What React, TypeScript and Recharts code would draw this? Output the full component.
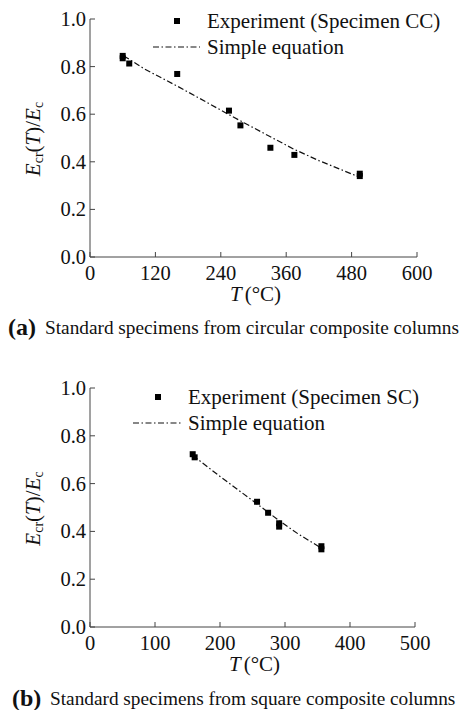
import React from 'react';
import { ScatterChart, Scatter, XAxis, YAxis, Legend, Label } from 'recharts';

const FONT = '"Liberation Serif", "Times New Roman", serif';
const AXIS = '#444';

// (a) circular composite columns, specimen CC
const ccExperiment = [
  { x: 60, y: 0.845 },
  { x: 60, y: 0.835 },
  { x: 72, y: 0.813 },
  { x: 160, y: 0.769 },
  { x: 255, y: 0.615 },
  { x: 276, y: 0.553 },
  { x: 331, y: 0.459 },
  { x: 375, y: 0.429 },
  { x: 495, y: 0.35 },
  { x: 495, y: 0.34 },
];
const ccEquation = [
  { x: 62, y: 0.845 },
  { x: 100, y: 0.79 },
  { x: 160, y: 0.718 },
  { x: 200, y: 0.668 },
  { x: 255, y: 0.598 },
  { x: 300, y: 0.543 },
  { x: 331, y: 0.505 },
  { x: 375, y: 0.452 },
  { x: 420, y: 0.405 },
  { x: 493, y: 0.337 },
];
const ccTicks = [0, 120, 240, 360, 480, 600];

// (b) square composite columns, specimen SC
const scExperiment = [
  { x: 158, y: 0.723 },
  { x: 161, y: 0.71 },
  { x: 257, y: 0.524 },
  { x: 274, y: 0.478 },
  { x: 291, y: 0.434 },
  { x: 291, y: 0.42 },
  { x: 356, y: 0.338 },
  { x: 356, y: 0.325 },
];
const scEquation = [
  { x: 158, y: 0.718 },
  { x: 200, y: 0.63 },
  { x: 257, y: 0.515 },
  { x: 275, y: 0.478 },
  { x: 291, y: 0.445 },
  { x: 320, y: 0.39 },
  { x: 356, y: 0.33 },
];
const scTicks = [0, 100, 200, 300, 400, 500];

const yTicks = [0, 0.2, 0.4, 0.6, 0.8, 1.0];

const DASH = '6 2.5 1.5 2.5';

const Square = (props: any) => {
  const { cx, cy } = props;
  if (cx == null || cy == null) return <g />;
  return <rect x={cx - 3} y={cy - 3} width={6} height={6} fill="#000" />;
};

const NoShape = () => <g />;

const XTick = (props: any) => {
  const { x, y, payload } = props;
  return (
    <g>
      <line x1={x} y1={y} x2={x} y2={y - 5} stroke={AXIS} />
      <text x={x} y={y + 16} textAnchor="middle" dominantBaseline="central" fontFamily={FONT} fontSize={20.5} fill="#111">
        {payload.value}
      </text>
    </g>
  );
};

const YTick = (props: any) => {
  const { x, y, payload } = props;
  return (
    <g>
      <line x1={x} y1={y} x2={x + 5} y2={y} stroke={AXIS} />
      <text x={x - 4} y={y} textAnchor="end" dominantBaseline="central" fontFamily={FONT} fontSize={20.5} fill="#111">
        {Number(payload.value).toFixed(1)}
      </text>
    </g>
  );
};

const YTitle = (props: any) => {
  const vb = props.viewBox || {};
  const cx = 33;
  const cy = vb.y + vb.height / 2 + 1;
  return (
    <text transform={`rotate(-90 ${cx} ${cy})`} x={cx} y={cy} textAnchor="middle" dominantBaseline="central" fontFamily={FONT} fontSize={21} fill="#111">
      <tspan fontStyle="italic">E</tspan>
      <tspan fontSize={14} dy={5}>cr</tspan>
      <tspan dy={-5}>(</tspan>
      <tspan fontStyle="italic">T</tspan>
      <tspan>)/</tspan>
      <tspan fontStyle="italic">E</tspan>
      <tspan fontSize={14} dy={5}>c</tspan>
    </text>
  );
};

const XTitle = (props: any) => {
  const vb = props.viewBox || {};
  const cx = vb.x + vb.width / 2 + 2;
  const cy = vb.y + 37;
  return (
    <text x={cx} y={cy} textAnchor="middle" dominantBaseline="central" fontFamily={FONT} fontSize={21} fill="#111">
      <tspan fontStyle="italic">T</tspan>
      <tspan dx={3}>(°C)</tspan>
    </text>
  );
};

const makeLegend = (name: string, markerX: number, lineX1: number, lineX2: number, textX: number, row1: number) => () => (
  <svg width={462} height={80} style={{ display: 'block' }}>
    <rect x={markerX - 3} y={row1 - 3} width={6} height={6} fill="#000" />
    <text x={textX} y={row1} dominantBaseline="central" fontFamily={FONT} fontSize={21} fill="#111">
      {name}
    </text>
    <line x1={lineX1} y1={row1 + 26} x2={lineX2} y2={row1 + 26} stroke="#111" strokeWidth={1.2} strokeDasharray={DASH} />
    <text x={textX} y={row1 + 26} dominantBaseline="central" fontFamily={FONT} fontSize={21} fill="#111">
      Simple equation
    </text>
  </svg>
);

interface PanelProps {
  experiment: { x: number; y: number }[];
  equation: { x: number; y: number }[];
  xTicks: number[];
  xMax: number;
  top: number;
  right: number;
  bottom: number;
  legend: () => React.ReactElement;
}

const Panel: React.FC<PanelProps> = ({ experiment, equation, xTicks, xMax, top, right, bottom, legend }) => (
  <ScatterChart width={462} height={320} margin={{ top, right, bottom, left: 0 }}>
    <XAxis
      type="number"
      dataKey="x"
      domain={[0, xMax]}
      ticks={xTicks}
      interval={0}
      height={50}
      stroke={AXIS}
      tickLine={false}
      tickSize={0}
      tickMargin={0}
      tick={<XTick />}
    >
      <Label content={<XTitle />} />
    </XAxis>
    <YAxis
      type="number"
      dataKey="y"
      domain={[0, 1]}
      ticks={yTicks}
      interval={0}
      width={90}
      stroke={AXIS}
      tickLine={false}
      tickSize={0}
      tickMargin={0}
      tick={<YTick />}
    >
      <Label content={<YTitle />} />
    </YAxis>
    <Legend
      layout="vertical"
      align="center"
      verticalAlign="middle"
      content={legend}
      wrapperStyle={{ top: 0, left: 0, width: 462, height: 80 }}
    />
    <Scatter
      name="Simple equation"
      data={equation}
      line={{ stroke: '#111', strokeWidth: 1.2, strokeDasharray: DASH }}
      lineType="joint"
      shape={<NoShape />}
      isAnimationActive={false}
    />
    <Scatter name="Experiment" data={experiment} shape={<Square />} isAnimationActive={false} />
  </ScatterChart>
);

const Caption: React.FC<{ tag: string; text: string; x: number; textX: number }> = ({ tag, text, x, textX }) => (
  <svg width={462} height={30} style={{ display: 'block' }}>
    <text x={x} y={15} dominantBaseline="central" fontFamily={FONT} fontSize={24} fontWeight="bold" fill="#111">
      {tag}
    </text>
    <text x={textX} y={15} dominantBaseline="central" fontFamily={FONT} fontSize={19.3} fill="#111">
      {text}
    </text>
  </svg>
);

const App: React.FC = () => (
  <div style={{ position: 'absolute', left: 0, top: 0, width: 462, height: 710, background: '#fff' }}>
    <div style={{ position: 'absolute', left: 0, top: 0 }}>
      <Panel
        experiment={ccExperiment}
        equation={ccEquation}
        xTicks={ccTicks}
        xMax={600}
        top={19}
        right={45}
        bottom={13}
        legend={makeLegend('Experiment (Specimen CC)', 177, 153, 200, 207, 21)}
      />
    </div>
    <div style={{ position: 'absolute', left: 0, top: 312 }}>
      <Caption tag="(a)" text="Standard specimens from circular composite columns" x={8} textX={45} />
    </div>
    <div style={{ position: 'absolute', left: 0, top: 360 }}>
      <Panel
        experiment={scExperiment}
        equation={scEquation}
        xTicks={scTicks}
        xMax={500}
        top={28}
        right={47}
        bottom={3}
        legend={makeLegend('Experiment (Specimen SC)', 158, 133, 182, 188, 37)}
      />
    </div>
    <div style={{ position: 'absolute', left: 0, top: 683 }}>
      <Caption tag="(b)" text="Standard specimens from square composite columns" x={12} textX={50} />
    </div>
  </div>
);

export default App;
